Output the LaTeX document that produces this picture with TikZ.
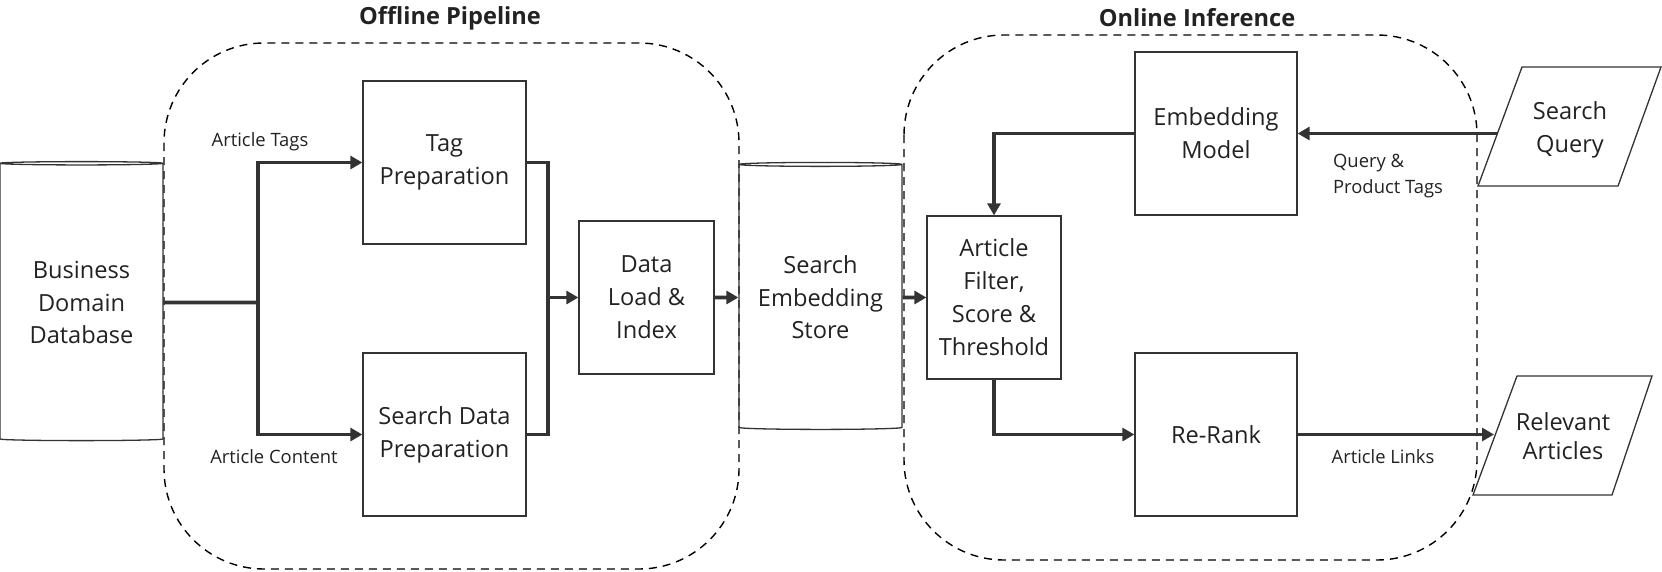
\documentclass[tikz,border=0pt]{standalone}
\usepackage{fontspec}
\setmainfont{Open Sans}
\usetikzlibrary{arrows.meta,shapes.geometric}

\definecolor{inkgray}{HTML}{333333}
\definecolor{textgray}{HTML}{222222}

\tikzset{
  box/.style={draw=inkgray, line width=1.3pt, minimum width=163pt, minimum height=163pt,
    align=center, text=textgray, font=\fontsize{23.6}{33}\selectfont},
  dbstore/.style={cylinder, shape border rotate=90, aspect=0.03, draw=inkgray, line width=1.3pt,
    minimum width=163pt, align=center, text=textgray, font=\fontsize{23.6}{32.5}\selectfont},
  frame/.style={draw=black, line width=1.4pt, dash pattern=on 8pt off 6pt, rounded corners=100pt},
  flow/.style={draw=inkgray, line width=3.6pt},
  flowarrow/.style={flow, -{Triangle[length=12pt,width=13pt]}},
  lbl/.style={text=textgray, font=\fontsize{18.4}{26.5}\selectfont},
  title/.style={text=textgray, font=\fontsize{23.6}{28}\selectfont\bfseries},
}

\begin{document}
\begin{tikzpicture}[x=1pt,y=-1pt]
    \useasboundingbox (0,0) rectangle (1662,571);

    % dashed groups
    \draw[frame] (164,43) rectangle (739,569);
    \draw[frame] (904,35) rectangle (1477,560);
    \node[title] (offtitle) at (450,18) {Offline Pipeline};
    \node[title] (ontitle) at (1197,18) {Online Inference};

    % offline part
    \node[dbstore, minimum height=279pt] (db) at (81.5,302.5) {Business\\Domain\\Database};
    \node[box] (tagprep) at (444.5,162.5) {Tag\\Preparation};
    \node[box] (searchprep) at (444.5,434.5) {Search Data\\Preparation};
    \node[box, minimum width=135pt, minimum height=153pt] (dataload) at (646.5,297.5) {Data\\Load \&\\Index};
    \node[dbstore, minimum height=267pt] (store) at (820.5,297.5) {Search\\Embedding\\Store};

    \coordinate (split) at (258,302.5);
    \coordinate (merge) at (548,297.5);
    \draw[flow] (db.east) -- (split);
    \draw[flowarrow] (split) |- (tagprep.west);
    \draw[flowarrow] (split) |- (searchprep.west);
    \draw[flow] (tagprep.east) -| (merge);
    \draw[flow] (searchprep.east) -| (merge);
    \draw[flowarrow] (merge) -- (dataload.west);
    \draw[flowarrow] (dataload.east) -- (store.west);
    \node[lbl] (tagslbl) at (260,142) {Article Tags};
    \node[lbl] (contentlbl) at (274,457) {Article Content};

    % online part
    \node[box, minimum width=162pt] (embed) at (1216,133.5) {Embedding\\Model};
    \node[box, minimum width=134pt] (filter) at (994,297.5) {Article\\Filter,\\Score \&\\Threshold};
    \node[box, minimum width=162pt] (rerank) at (1216,434.5) {Re-Rank};

    \node[text=textgray, font=\fontsize{23.6}{33}\selectfont, align=center] (query) at (1570,130) {Search\\Query};
    \draw[inkgray, line width=1.3pt] (1478,186) -- (1522,67) -- (1661,67) -- (1618,186) -- cycle;
    \node[text=textgray, font=\fontsize{23.6}{29}\selectfont, align=center] (relevant) at (1563,436) {Relevant\\Articles};
    \draw[inkgray, line width=1.3pt] (1473,495) -- (1517,376) -- (1652,376) -- (1612,495) -- cycle;
    \coordinate (queryin) at (1497,133.5);
    \coordinate (relin) at (1494,434.5);

    \draw[flowarrow] (queryin) -- (embed.east);
    \draw[flowarrow] (embed.west) -| (filter.north);
    \draw[flowarrow] (store.east) -- (filter.west);
    \draw[flowarrow] (filter.south) |- (rerank.west);
    \draw[flowarrow] (rerank.east) -- (relin);
    \node[lbl, align=left] (querylbl) at (1388,176) {Query \&\\Product Tags};
    \node[lbl] (linkslbl) at (1383,457) {Article Links};
\end{tikzpicture}
\end{document}
